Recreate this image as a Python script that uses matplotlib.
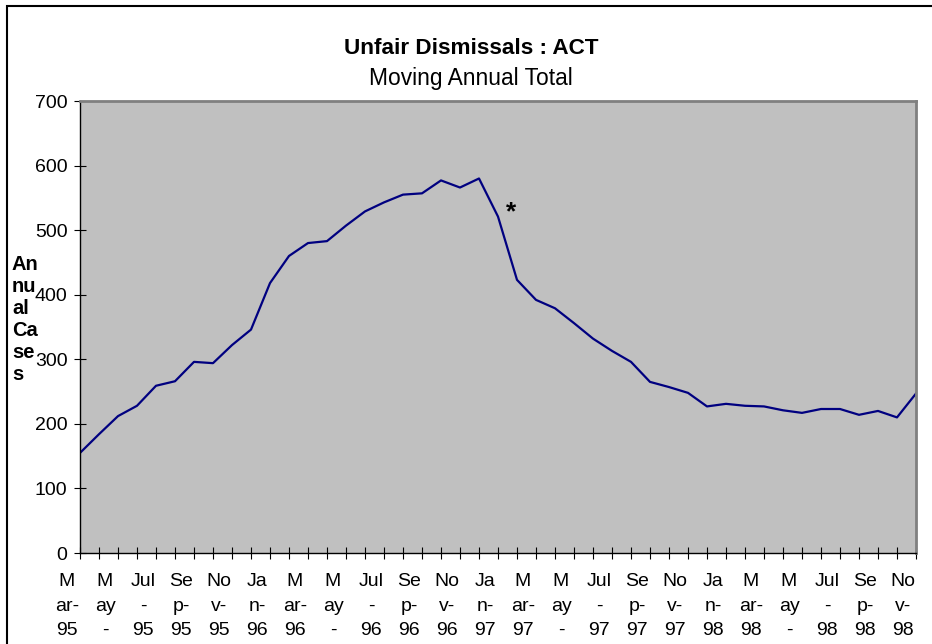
import numpy as np
import matplotlib.pyplot as plt
from matplotlib.patches import Rectangle
from matplotlib.transforms import ScaledTranslation

plt.rcParams['font.family'] = ['Liberation Sans', 'DejaVu Sans']

months = ["Mar", "Apr", "May", "Jun", "Jul", "Aug", "Sep", "Oct", "Nov", "Dec", "Jan", "Feb"]
# moving annual total of unfair dismissal cases, Mar-95 .. Nov-98
cases = [155, 184, 212, 228, 259, 266, 296, 294, 322, 346, 418, 460, 480, 483, 507,
         529, 543, 555, 557, 577, 566, 580, 521, 423, 392, 379, 356, 332, 313, 296,
         265, 257, 248, 227, 231, 228, 227, 221, 217, 223, 223, 214, 220, 210, 247]

# wrapped the way the original narrow category labels wrap
# (the year under "May-" falls below the picture edge in the original)
label_text = {"Mar": "M\nar-\n{}", "May": "M\nay\n-", "Jul": "Jul\n-\n{}",
              "Sep": "Se\np-\n{}", "Nov": "No\nv-\n{}", "Jan": "Ja\nn-\n{}"}

x = np.arange(len(cases))
labels = []
for i in x:
    m = months[i % 12]
    yr = 95 + (i + 2) // 12
    if i % 2 == 0:
        labels.append(label_text[m].format(yr))
    else:
        labels.append("")

fig = plt.figure(figsize=(9.32, 6.44), dpi=100)
ax = fig.add_axes([80 / 932, 1 - 553 / 644, 836 / 932, 452 / 644])

ax.set_facecolor("#C0C0C0")
ax.plot(x, cases, color="#000080", lw=1.6)
ax.text(22.7, 528, "*", fontsize=19, fontweight="bold", ha="center", va="center")

ax.set_xlim(0, 44)
ax.set_ylim(0, 700)
ax.set_yticks(range(0, 701, 100))
ax.set_xticks(x)
ax.set_xticklabels(labels, fontsize=14, linespacing=1.57, va="top")
ax.tick_params(axis="x", direction="inout", length=8, width=0.8, pad=10.5)
ax.tick_params(axis="y", direction="inout", length=8, width=0.8, pad=5, labelsize=14)
offset = ScaledTranslation(-13 / 100, 0, fig.dpi_scale_trans)
for lab in ax.get_xticklabels():
    lab.set_transform(lab.get_transform() + offset)

for s in ["top", "right"]:
    ax.spines[s].set_color("#808080")
    ax.spines[s].set_linewidth(2)
for s in ["left", "bottom"]:
    ax.spines[s].set_color("black")
    ax.spines[s].set_linewidth(1)

fig.text(0.5055, 1 - 48.5 / 644, "Unfair Dismissals : ACT", fontsize=16.2, fontweight="bold",
         ha="center", va="center")
fig.text(0.5055, 1 - 79 / 644, "Moving Annual Total", fontsize=16.4, ha="center", va="center")
fig.text(12 / 932, 1 - 319 / 644, "An\nnu\nal\nCa\nse\ns", fontsize=14.5, fontweight="bold",
         ha="left", va="center", linespacing=1.2)

fig.patches.append(Rectangle((6.5 / 932, -0.1), 1.2, 1.1 - 5.5 / 644, transform=fig.transFigure,
                             fill=False, edgecolor="black", lw=1.5))

fig.savefig("out.png", dpi=100)
